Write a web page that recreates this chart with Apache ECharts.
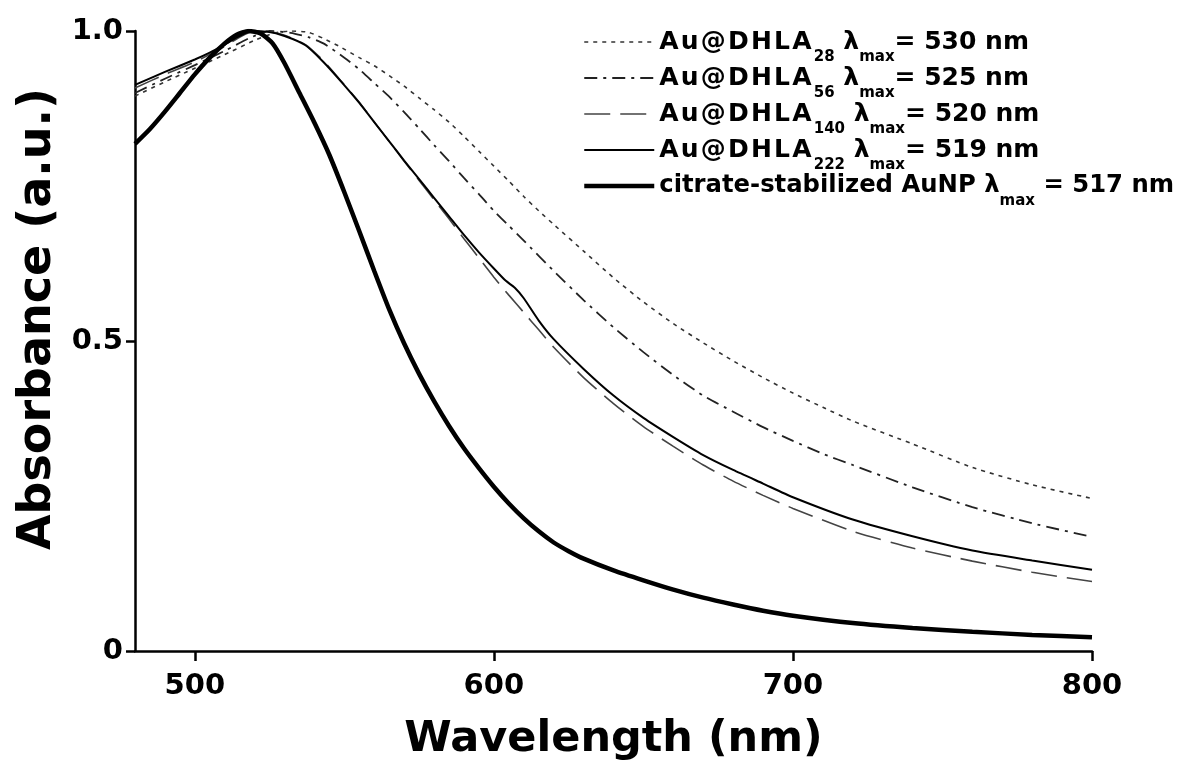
<!DOCTYPE html>
<html>
<head>
<meta charset="utf-8">
<script src="https://cdn.jsdelivr.net/npm/echarts@6/dist/echarts.min.js"></script>
<style>
html,body{margin:0;padding:0;background:#fff;}
#c{width:1185px;height:762px;}
</style>
</head>
<body>
<div id="c"></div>
<script>
// ---- data (wavelength nm, normalized absorbance) ----
const dhla28 = [[480,0.895],[490,0.918],[500,0.940],[510,0.962],[520,0.985],[526,0.996],[532,1.000],[538,0.998],[543,0.988],[548,0.976],[555,0.957],[560,0.944],[565,0.928],[570,0.911],[575,0.892],[580,0.873],[585,0.853],[590,0.830],[595,0.806],[600,0.782],[605,0.758],[610,0.733],[615,0.710],[620,0.688],[630,0.645],[640,0.602],[650,0.563],[660,0.528],[670,0.497],[680,0.468],[690,0.441],[700,0.416],[710,0.393],[720,0.371],[740,0.334],[760,0.296],[780,0.268],[800,0.246]];
const dhla56 = [[480,0.900],[490,0.923],[500,0.945],[510,0.968],[518,0.988],[525,1.000],[532,0.997],[538,0.990],[543,0.980],[550,0.957],[555,0.938],[560,0.916],[565,0.894],[570,0.869],[575,0.843],[580,0.816],[585,0.790],[590,0.763],[595,0.737],[600,0.710],[605,0.686],[610,0.662],[620,0.613],[630,0.566],[640,0.522],[650,0.482],[660,0.445],[670,0.412],[680,0.386],[690,0.361],[700,0.339],[710,0.318],[720,0.300],[740,0.264],[760,0.232],[780,0.206],[800,0.184]];
const dhla140 = [[480,0.908],[490,0.930],[500,0.950],[510,0.975],[515,0.990],[520,1.000],[525,0.999],[530,0.993],[537,0.978],[543,0.952],[549,0.919],[555,0.885],[560,0.853],[565,0.822],[570,0.790],[575,0.759],[580,0.728],[585,0.697],[590,0.665],[595,0.634],[600,0.603],[605,0.574],[610,0.546],[615,0.518],[620,0.490],[630,0.441],[640,0.399],[650,0.362],[660,0.330],[670,0.300],[680,0.274],[690,0.251],[700,0.230],[720,0.193],[740,0.166],[760,0.145],[780,0.127],[800,0.112]];
const dhla222 = [[480,0.913],[490,0.934],[500,0.954],[505,0.965],[510,0.978],[515,0.992],[519,1.000],[524,0.999],[530,0.992],[537,0.977],[543,0.950],[549,0.918],[555,0.884],[560,0.853],[565,0.822],[570,0.791],[575,0.761],[580,0.731],[585,0.701],[590,0.671],[595,0.643],[600,0.617],[604,0.597],[607,0.586],[610,0.569],[615,0.533],[620,0.503],[630,0.455],[640,0.412],[650,0.376],[660,0.345],[670,0.316],[680,0.292],[690,0.270],[700,0.248],[720,0.212],[740,0.185],[760,0.162],[780,0.146],[800,0.131]];
const citrate = [[480,0.818],[485,0.842],[490,0.870],[495,0.900],[500,0.930],[505,0.957],[510,0.980],[514,0.994],[518,1.000],[522,0.996],[526,0.980],[530,0.948],[535,0.900],[540,0.852],[545,0.800],[550,0.740],[555,0.677],[560,0.613],[565,0.551],[570,0.496],[575,0.447],[580,0.403],[585,0.363],[590,0.327],[595,0.295],[600,0.265],[605,0.238],[610,0.214],[615,0.193],[620,0.175],[625,0.161],[630,0.149],[640,0.130],[650,0.114],[660,0.099],[670,0.086],[680,0.075],[690,0.065],[700,0.057],[720,0.045],[740,0.037],[760,0.031],[780,0.026],[800,0.022]];

const seriesNames = ['DHLA28', 'DHLA56', 'DHLA140', 'DHLA222', 'citrate'];
const subscripts = ['28', '56', '140', '222', ''];
const lambdaMax = ['530', '525', '520', '519', '517'];
const xTicks = [500, 600, 700, 800];
const yTickValues = [0, 0.5, 1];
const yTickLabels = ['0', '0.5', '1.0'];

const FONT = 'DejaVu Sans';
const chart = echarts.init(document.getElementById('c'), null, {renderer: 'canvas'});

function spaced(str) {
  return str.split('').map(ch => '{w|' + ch + '}').join('');
}
function legendText(name) {
  const i = seriesNames.indexOf(name);
  if (subscripts[i] === '') {
    return '{c|citrate-stabilized AuNP λ}{s|max}{c| = ' + lambdaMax[i] + ' nm}';
  }
  return spaced('Au@DHLA') + '{s|' + subscripts[i] + '}{t| λ}{s|max}{t|= ' + lambdaMax[i] + ' nm}';
}

const styles = [
  {type: [4, 5], width: 1.6, color: '#333'},
  {type: [13, 6, 3, 6], width: 1.8, color: '#222'},
  {type: [26, 10], width: 1.6, color: '#444'},
  {type: 'solid', width: 2, color: '#000'},
  {type: 'solid', width: 4.5, color: '#000'}
];
const datasets = [dhla28, dhla56, dhla140, dhla222, citrate];

const option = {
  animation: false,
  backgroundColor: '#fff',
  grid: {left: 135, right: 93, top: 31, bottom: 111, outerBoundsMode: 'none'},
  legend: {
    orient: 'vertical',
    left: 582,
    top: 19,
    padding: 0,
    itemWidth: 70,
    itemHeight: 14,
    itemGap: -10,
    selectedMode: false,
    data: seriesNames,
    formatter: legendText,
    itemStyle: {opacity: 0},
    lineStyle: {width: 'inherit', type: 'inherit', color: 'inherit'},
    textStyle: {
      rich: {
        t: {fontFamily: FONT, fontSize: 25, fontWeight: 'bold', color: '#000', lineHeight: 26},
        c: {fontFamily: FONT, fontSize: 24.3, fontWeight: 'bold', color: '#000', lineHeight: 26},
        w: {fontFamily: FONT, fontSize: 25, fontWeight: 'bold', color: '#000', lineHeight: 26, padding: [0, 2.2, 0, 0]},
        s: {fontFamily: FONT, fontSize: 15, fontWeight: 'bold', color: '#000', lineHeight: 14, padding: [31, 0, 0, 0]}
      }
    }
  },
  xAxis: {
    type: 'value', min: 480, max: 800,
    name: 'Wavelength (nm)', nameLocation: 'middle', nameGap: 67,
    nameTextStyle: {fontFamily: FONT, fontSize: 43, fontWeight: 'bold', color: '#000'},
    axisLine: {show: true, lineStyle: {color: '#000', width: 2.5}},
    axisTick: {show: true, length: 10, inside: false, customValues: xTicks, lineStyle: {color: '#000', width: 2.5}},
    axisLabel: {customValues: xTicks, margin: 21, fontFamily: FONT, fontSize: 29, fontWeight: 'bold', color: '#000'},
    splitLine: {show: false}
  },
  yAxis: {
    type: 'value', min: 0, max: 1,
    name: 'Absorbance (a.u.)', nameLocation: 'middle', nameGap: 48, nameRotate: 90,
    nameTextStyle: {fontFamily: FONT, fontSize: 46, fontWeight: 'bold', color: '#000', padding: [0, 0, 0, 44]},
    axisLine: {show: true, lineStyle: {color: '#000', width: 2.5}},
    axisTick: {show: true, length: 9, customValues: yTickValues, lineStyle: {color: '#000', width: 2.5}},
    axisLabel: {customValues: yTickValues, margin: 12, fontFamily: FONT, fontSize: 29, fontWeight: 'bold', color: '#000',
      formatter: v => yTickLabels[yTickValues.indexOf(v)]},
    splitLine: {show: false}
  },
  series: datasets.map((d, i) => ({
    name: seriesNames[i],
    type: 'line',
    data: d,
    symbol: 'none',
    smooth: 0.2,
    lineStyle: styles[i],
    itemStyle: {color: styles[i].color},
    z: i + 2
  }))
};
chart.setOption(option);
</script>
</body>
</html>
